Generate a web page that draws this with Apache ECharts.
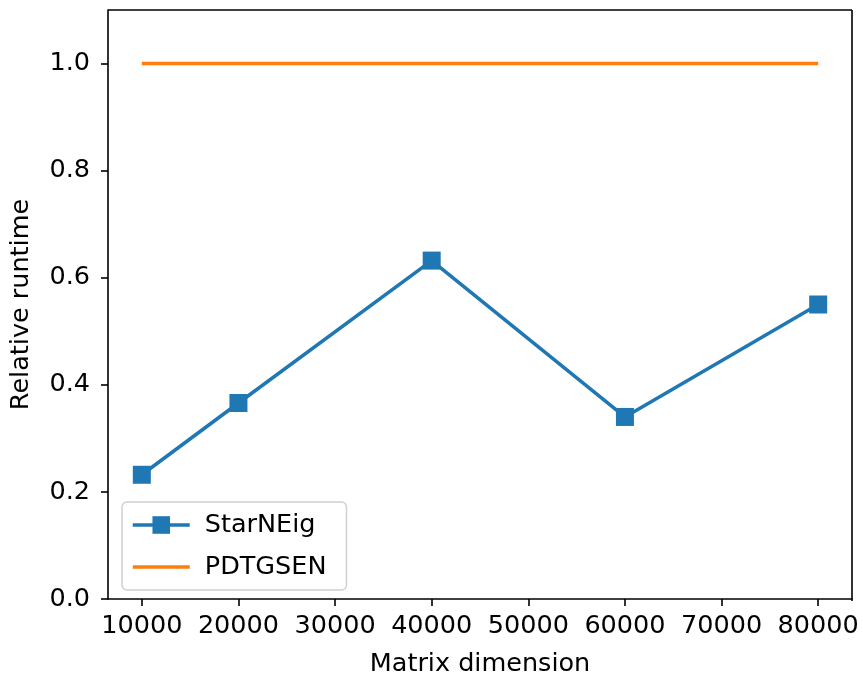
<!DOCTYPE html>
<html><head><meta charset="utf-8">
<script src="https://cdn.jsdelivr.net/npm/echarts@6/dist/echarts.min.js"></script>
<style>html,body{margin:0;padding:0;background:#fff}#c{width:863px;height:682px}</style>
</head><body><div id="c"></div>
<script>
const dims = [10000, 20000, 40000, 60000, 80000];
const starneig = [0.232, 0.366, 0.632, 0.340, 0.550];
const pdtgsen = [1.0, 1.0, 1.0, 1.0, 1.0];
const xTicks = [10000, 20000, 30000, 40000, 50000, 60000, 70000, 80000];
const yTicks = [0.0, 0.2, 0.4, 0.6, 0.8, 1.0];

const chart = echarts.init(document.getElementById('c'));
const font = 'DejaVu Sans';
const fs = 25.5;
chart.setOption({
  animation: false,
  grid: {left: 108, right: 11, top: 10, bottom: 81},
  xAxis: {
    type: 'value', min: 6500, max: 83500,
    name: 'Matrix dimension', nameLocation: 'middle', nameGap: 52,
    nameTextStyle: {fontFamily: font, fontSize: fs, color: '#000'},
    axisLine: {lineStyle: {color: '#000', width: 1.6}},
    axisTick: {customValues: xTicks, length: 7, lineStyle: {color: '#000', width: 1.6}},
    axisLabel: {customValues: xTicks, fontFamily: font, fontSize: fs, color: '#000', margin: 14,
      formatter: v => String(v)},
    splitLine: {show: false}
  },
  yAxis: {
    type: 'value', min: 0, max: 1.1,
    name: 'Relative runtime', nameLocation: 'middle', nameGap: 74,
    nameTextStyle: {fontFamily: font, fontSize: fs, color: '#000'},
    axisLine: {show: true, lineStyle: {color: '#000', width: 1.6}},
    axisTick: {show: true, customValues: yTicks, length: 7, lineStyle: {color: '#000', width: 1.6}},
    axisLabel: {customValues: yTicks, fontFamily: font, fontSize: fs, color: '#000', margin: 18,
      formatter: v => v.toFixed(1)},
    splitLine: {show: false}
  },
  graphic: [
    {type: 'line', shape: {x1: 852, y1: 10, x2: 852, y2: 601}, style: {stroke: '#000', lineWidth: 1.6}, z: 10},
    {type: 'line', shape: {x1: 108, y1: 10, x2: 852, y2: 10}, style: {stroke: '#000', lineWidth: 1.6}, z: 10}
  ],
  legend: {
    orient: 'vertical', left: 122, top: 502,
    itemWidth: 57, itemHeight: 22, itemGap: 16,
    padding: [10, 20, 10, 9],
    borderColor: '#d0d0d0', borderWidth: 1.5, borderRadius: 5,
    backgroundColor: 'rgba(255,255,255,0.8)',
    lineStyle: {width: 3.5},
    textStyle: {fontFamily: font, fontSize: fs, color: '#000', padding: [0, 0, 0, 10]},
    data: ['StarNEig', {name: 'PDTGSEN', itemStyle: {opacity: 0}}]
  },
  series: [
    {name: 'StarNEig', type: 'line', data: dims.map((d, i) => [d, starneig[i]]),
     symbol: 'rect', symbolSize: 18, color: '#1f77b4',
     lineStyle: {width: 3.5, color: '#1f77b4'}, itemStyle: {color: '#1f77b4'}},
    {name: 'PDTGSEN', type: 'line', data: dims.map((d, i) => [d, pdtgsen[i]]),
     symbol: 'none', color: '#ff7f0e',
     lineStyle: {width: 3.5, color: '#ff7f0e'}}
  ]
});
</script></body></html>
